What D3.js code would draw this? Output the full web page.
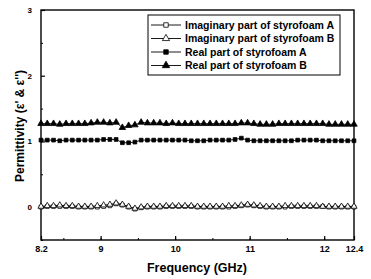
<!DOCTYPE html>
<html>
<head>
<meta charset="utf-8">
<script src="https://cdn.jsdelivr.net/npm/d3@7"></script>
<style>
body { margin: 0; background: #fff; }
</style>
</head>
<body>
<div class="plot"></div>
<script>
// 51 frequency points, 8.2 - 12.4 GHz
const freq = d3.range(51).map(i => +(8.2 + i * 0.084).toFixed(3));
const realB = [1.27,1.27,1.27,1.26,1.27,1.27,1.27,1.27,1.28,1.29,1.29,1.28,1.29,1.21,1.24,1.25,1.29,1.28,1.28,1.28,1.27,1.28,1.27,1.27,1.27,1.27,1.27,1.27,1.27,1.27,1.27,1.27,1.28,1.28,1.27,1.26,1.26,1.26,1.27,1.27,1.27,1.27,1.27,1.27,1.27,1.27,1.26,1.26,1.26,1.26,1.26];
const realA = [1.02,1.02,1.02,1.01,1.02,1.02,1.02,1.02,1.02,1.02,1.03,1.03,1.03,0.98,0.98,0.99,1.02,1.02,1.02,1.02,1.02,1.02,1.02,1.02,1.01,1.01,1.01,1.02,1.02,1.02,1.02,1.03,1.05,1.02,1.01,1.01,1.01,1.01,1.01,1.01,1.01,1.02,1.02,1.02,1.02,1.01,1.01,1.01,1.01,1.01,1.01];
const imagA = [0.00,0.01,0.01,0.01,0.01,0.01,0.00,0.00,0.00,0.00,0.01,0.02,0.05,0.03,0.00,-0.03,-0.01,0.00,0.00,0.00,0.01,0.01,0.01,0.01,0.01,0.00,0.00,0.00,0.00,0.00,0.00,0.01,0.02,0.03,0.02,0.01,0.00,0.00,0.00,0.00,0.01,0.01,0.01,0.01,0.01,0.01,0.00,0.00,0.00,0.00,0.00];
const imagB = [0.01,0.02,0.02,0.03,0.02,0.02,0.01,0.01,0.01,0.02,0.03,0.04,0.06,0.04,0.01,-0.02,0.00,0.01,0.01,0.01,0.02,0.02,0.02,0.02,0.02,0.01,0.01,0.01,0.01,0.01,0.02,0.02,0.03,0.04,0.03,0.02,0.01,0.01,0.01,0.02,0.02,0.02,0.02,0.02,0.02,0.01,0.01,0.01,0.01,0.01,0.01];
const legendLabels = ["Imaginary part of styrofoam A", "Imaginary part of styrofoam B", "Real part of styrofoam A", "Real part of styrofoam B"];
const xTicks = [8.2, 9, 10, 11, 12, 12.4];
const yTicks = [0, 1, 2, 3];

const width = 371, height = 279;
const m = {left: 41, right: 17, top: 10, bottom: 39};
const font = '"Liberation Sans", Arial, sans-serif';

const svg = d3.select('.plot').append('svg')
    .attr('width', width)
    .attr('height', height);

const x = d3.scaleLinear().domain([8.2, 12.4]).range([m.left, width - m.right]);
const y = d3.scaleLinear().domain([-0.5, 3]).range([height - m.bottom, m.top]);

// frame
svg.append('rect')
    .attr('x', x(8.2)).attr('y', y(3))
    .attr('width', x(12.4) - x(8.2)).attr('height', y(-0.5) - y(3))
    .attr('fill', 'none').attr('stroke', '#000').attr('stroke-width', 1.4);

// x axis ticks (inward)
const xMinor = d3.range(8.5, 12.4, 0.5);
svg.append('g').attr('transform', `translate(0,${y(-0.5)})`)
    .call(d3.axisBottom(x).tickValues(xMinor).tickSize(-2).tickFormat(''))
    .call(g => g.select('.domain').remove());
const xAxis = svg.append('g').attr('transform', `translate(0,${y(-0.5)})`)
    .call(d3.axisBottom(x).tickValues(xTicks).tickSize(-4).tickPadding(6).tickFormat(d3.format('')))
    .call(g => g.select('.domain').remove());
xAxis.selectAll('line').attr('stroke-width', 1.2);
xAxis.selectAll('text').attr('font-size', 9).attr('font-family', font).attr('font-weight', 'bold');

// y axis ticks (inward)
svg.append('g').attr('transform', `translate(${x(8.2)},0)`)
    .call(d3.axisLeft(y).tickValues([-0.5, 0.5, 1.5, 2.5]).tickSize(-2).tickFormat(''))
    .call(g => g.select('.domain').remove());
const yAxis = svg.append('g').attr('transform', `translate(${x(8.2)},0)`)
    .call(d3.axisLeft(y).tickValues(yTicks).tickSize(-4).tickPadding(9).tickFormat(d3.format('d')))
    .call(g => g.select('.domain').remove());
yAxis.selectAll('line').attr('stroke-width', 1.2);
yAxis.selectAll('text').attr('font-size', 8).attr('font-family', font).attr('font-weight', 'bold');

// axis titles
svg.append('text')
    .attr('x', 197).attr('y', 272)
    .attr('text-anchor', 'middle').attr('font-size', 12.5)
    .attr('font-family', font).attr('font-weight', 'bold')
    .text('Frequency (GHz)');
svg.append('text')
    .attr('transform', `translate(24,126) rotate(-90)`)
    .attr('text-anchor', 'middle').attr('font-size', 12)
    .attr('font-family', font).attr('font-weight', 'bold')
    .text("Permittivity (ε' & ε'')");

const series = [
    {vals: imagA, sym: d3.symbolSquare, fill: '#fff', size: 14},
    {vals: imagB, sym: d3.symbolTriangle, fill: '#fff', size: 16},
    {vals: realA, sym: d3.symbolSquare, fill: '#000', size: 14},
    {vals: realB, sym: d3.symbolTriangle, fill: '#000', size: 18}
];

const line = d3.line().x((d, i) => x(freq[i])).y(d => y(d));

series.forEach(s => {
    svg.append('path').datum(s.vals)
        .attr('d', line).attr('fill', 'none')
        .attr('stroke', '#000').attr('stroke-width', 0.9);
    svg.selectAll(null).data(s.vals).enter().append('path')
        .attr('d', d3.symbol().type(s.sym).size(s.size))
        .attr('transform', (d, i) => `translate(${x(freq[i])},${y(d)})`)
        .attr('fill', s.fill).attr('stroke', '#000').attr('stroke-width', 0.8);
});

// legend
const lg = svg.append('g');
lg.append('rect')
    .attr('x', 148).attr('y', 15).attr('width', 192).attr('height', 60)
    .attr('fill', '#fff').attr('stroke', '#000').attr('stroke-width', 1);
series.forEach((s, i) => {
    const ly = 25 + i * 13.5;
    lg.append('line').attr('x1', 151).attr('x2', 181).attr('y1', ly).attr('y2', ly)
        .attr('stroke', '#000').attr('stroke-width', 0.9);
    lg.append('path').attr('d', d3.symbol().type(s.sym).size(s.size + 6))
        .attr('transform', `translate(166,${ly})`)
        .attr('fill', s.fill).attr('stroke', '#000').attr('stroke-width', 0.8);
    lg.append('text').attr('x', 185).attr('y', ly + 3.5)
        .attr('font-size', 10.5).attr('font-family', font).attr('font-weight', 'bold')
        .text(legendLabels[i]);
});
</script>
</body>
</html>
